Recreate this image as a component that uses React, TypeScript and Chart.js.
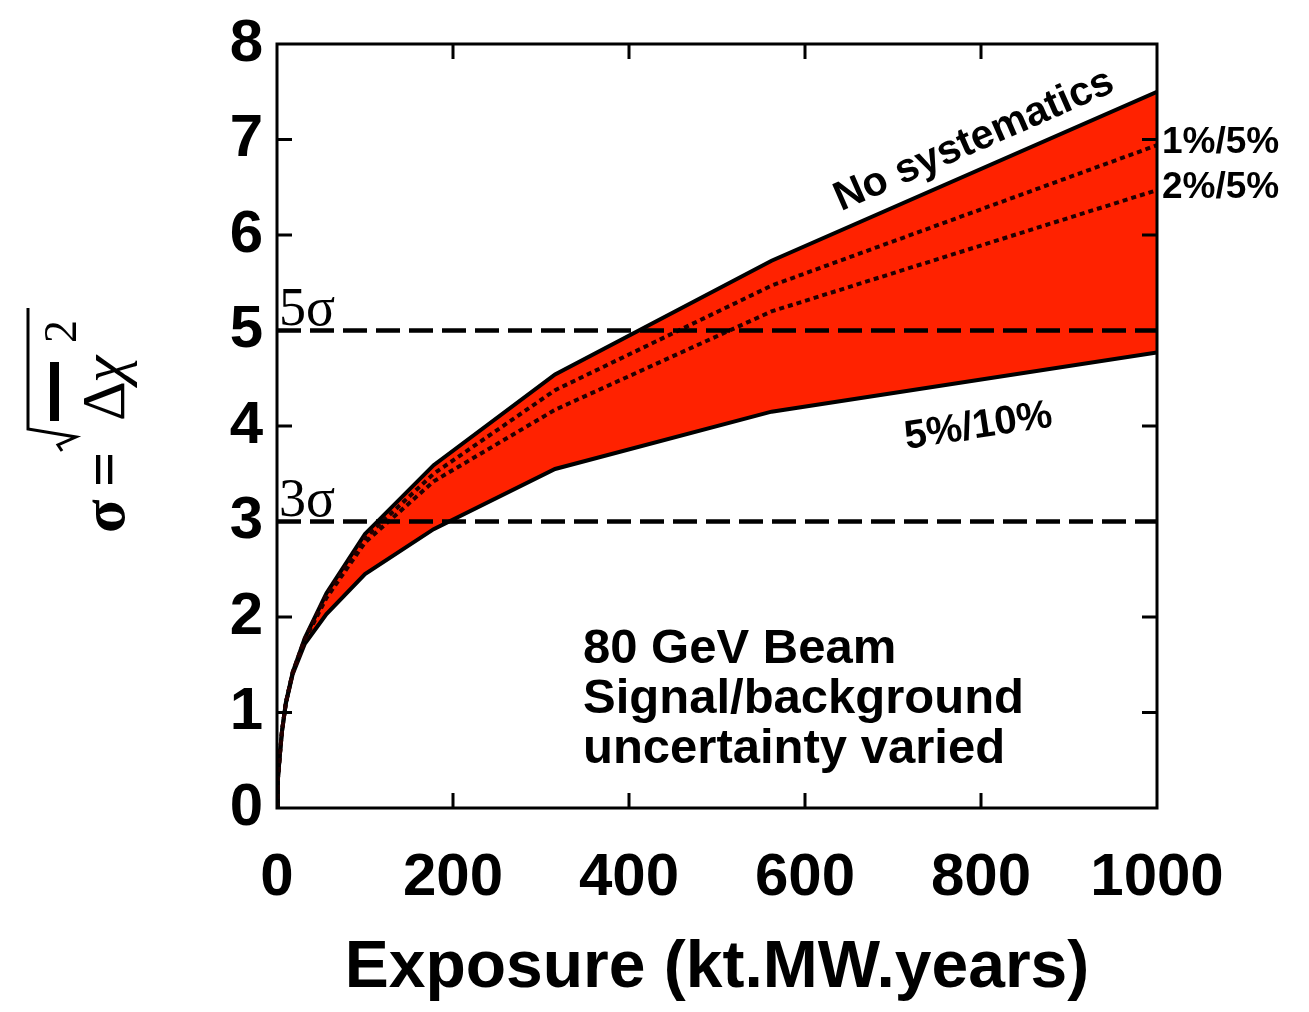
import React, { useEffect, useRef } from "react";
import { Chart, registerables } from "chart.js";

Chart.register(...registerables);

// ---- data ----
const exposure = [0, 1, 3.16, 5.62, 10, 17.8, 31.6, 56.2, 100, 178, 316, 562, 1000];
const noSystematics = [0, 0.3, 0.55, 0.8, 1.1, 1.42, 1.78, 2.25, 2.87, 3.59, 4.54, 5.73, 7.5];
const sys1pct5pct = [0, 0.3, 0.55, 0.8, 1.1, 1.42, 1.77, 2.23, 2.83, 3.5, 4.375, 5.47, 6.94];
const sys2pct5pct = [0, 0.3, 0.55, 0.8, 1.1, 1.41, 1.76, 2.2, 2.78, 3.42, 4.17, 5.2, 6.47];
const sys5pct10pct = [0, 0.3, 0.55, 0.8, 1.09, 1.4, 1.72, 2.03, 2.45, 2.92, 3.55, 4.15, 4.77];

const sigmaLevels = [5, 3];
const sigmaLabels = ["5σ", "3σ"];
const xRange = [0, 1000];
const xTickValues = [0, 200, 400, 600, 800, 1000];
const yTickValues = [0, 1, 2, 3, 4, 5, 6, 7, 8];
const xTitle = "Exposure (kt.MW.years)";
const infoLines = ["80 GeV Beam", "Signal/background", "uncertainty varied"];

const RED = "rgb(255,34,0)";
const SANS = '"Liberation Sans", Arial, sans-serif';
const SERIF = '"Liberation Serif", "Times New Roman", serif';

const toPts = (ys: number[]) => exposure.map((x, i) => ({ x, y: ys[i] }));

const decorPlugin = {
  id: "decor",
  afterDatasetsDraw(chart: any) {
    const ctx = chart.ctx;
    const { left, right, top, bottom } = chart.chartArea;
    const xs = chart.scales.x;
    const ys = chart.scales.y;
    ctx.save();
    // frame
    ctx.strokeStyle = "#000";
    ctx.lineWidth = 3;
    ctx.strokeRect(left, top, right - left, bottom - top);
    // inside ticks on all sides
    const tl = 15;
    ctx.beginPath();
    yTickValues.slice(1, -1).forEach((v) => {
      const p = ys.getPixelForValue(v);
      ctx.moveTo(left, p);
      ctx.lineTo(left + tl, p);
      ctx.moveTo(right, p);
      ctx.lineTo(right - tl, p);
    });
    xTickValues.slice(1, -1).forEach((v) => {
      const p = xs.getPixelForValue(v);
      ctx.moveTo(p, bottom);
      ctx.lineTo(p, bottom - tl);
      ctx.moveTo(p, top);
      ctx.lineTo(p, top + tl);
    });
    ctx.stroke();

    ctx.fillStyle = "#000";
    // sigma labels
    ctx.font = `54px ${SERIF}`;
    ctx.textAlign = "left";
    ctx.textBaseline = "alphabetic";
    sigmaLevels.forEach((lv, i) => {
      ctx.fillText(sigmaLabels[i], left + 2, ys.getPixelForValue(lv) - 6);
    });

    // "No systematics" along the upper curve
    const n = exposure.length;
    const ax = xs.getPixelForValue(exposure[n - 2]);
    const ay = ys.getPixelForValue(noSystematics[n - 2]);
    const bx = xs.getPixelForValue(exposure[n - 1]);
    const by = ys.getPixelForValue(noSystematics[n - 1]);
    const ang = Math.atan2(by - ay, bx - ax);
    const t0 = 0.18;
    ctx.save();
    ctx.translate(ax + (bx - ax) * t0, ay + (by - ay) * t0 - 19);
    ctx.rotate(ang);
    ctx.font = `bold 41px ${SANS}`;
    ctx.fillText("No systematics", 0, 0);
    ctx.restore();

    // "5%/10%" below the lower curve
    const cx = ax + (bx - ax) * 0.35;
    const la = ys.getPixelForValue(sys5pct10pct[n - 2]);
    const lb = ys.getPixelForValue(sys5pct10pct[n - 1]);
    const ang2 = Math.atan2(lb - la, bx - ax);
    ctx.save();
    ctx.translate(cx, la + (lb - la) * 0.35 + 58);
    ctx.rotate(ang2);
    ctx.font = `bold 40px ${SANS}`;
    ctx.fillText("5%/10%", 0, 0);
    ctx.restore();

    // right side labels
    ctx.font = `bold 37px ${SANS}`;
    ctx.textBaseline = "middle";
    ctx.fillText("1%/5%", right + 5, ys.getPixelForValue(sys1pct5pct[n - 1]) - 2);
    ctx.fillText("2%/5%", right + 5, ys.getPixelForValue(sys2pct5pct[n - 1]) - 2);

    // info box
    ctx.textBaseline = "alphabetic";
    ctx.font = `bold 49px ${SANS}`;
    infoLines.forEach((t, i) => {
      ctx.fillText(t, left + 306, bottom - 145 + i * 50);
    });

    // y-axis title: sigma = sqrt(Delta chi^2), rotated
    ctx.save();
    ctx.translate(124, 533);
    ctx.rotate(-Math.PI / 2);
    ctx.font = `bold 62px ${SERIF}`;
    ctx.fillText("σ", 0, 0);
    ctx.fillText("=", 46, 0);
    ctx.lineWidth = 3;
    ctx.beginPath();
    ctx.moveTo(82, -62);
    ctx.lineTo(88, -66);
    ctx.lineTo(96, -48);
    ctx.lineTo(104, -96);
    ctx.lineTo(225, -96);
    ctx.stroke();
    ctx.fillRect(112, -74, 59, 9);
    ctx.font = `62px ${SERIF}`;
    ctx.fillText("Δ", 112, 0);
    ctx.font = `italic 62px ${SERIF}`;
    ctx.fillText("χ", 150, 0);
    ctx.font = `46px ${SERIF}`;
    ctx.fillText("2", 190, -48);
    ctx.restore();

    ctx.restore();
  },
};

export default function App() {
  const ref = useRef<HTMLCanvasElement>(null);
  useEffect(() => {
    if (!ref.current) return;
    const sigmaDatasets = sigmaLevels.map((lv) => ({
      data: xRange.map((x) => ({ x, y: lv })),
      borderColor: "#000",
      borderWidth: 4.5,
      borderDash: [24, 9],
      pointRadius: 0,
      fill: false,
    }));
    const chart = new Chart(ref.current, {
      type: "line",
      data: {
        datasets: [
          ...sigmaDatasets,
          {
            label: "1%/5%",
            data: toPts(sys1pct5pct),
            borderColor: "#220000",
            borderWidth: 4,
            borderDash: [5, 4],
            pointRadius: 0,
            fill: false,
          },
          {
            label: "2%/5%",
            data: toPts(sys2pct5pct),
            borderColor: "#220000",
            borderWidth: 4,
            borderDash: [5, 4],
            pointRadius: 0,
            fill: false,
          },
          {
            label: "No systematics",
            data: toPts(noSystematics),
            borderColor: "#000",
            borderWidth: 4,
            pointRadius: 0,
            fill: false,
          },
          {
            label: "5%/10%",
            data: toPts(sys5pct10pct),
            borderColor: "#000",
            borderWidth: 4,
            pointRadius: 0,
            backgroundColor: RED,
            fill: "-1",
          },
        ],
      },
      options: {
        animation: false,
        responsive: false,
        devicePixelRatio: 1,
        layout: { padding: { top: 38, right: 152, left: 0, bottom: 0 } },
        elements: { line: { tension: 0 } },
        plugins: { legend: { display: false }, tooltip: { enabled: false } },
        scales: {
          x: {
            type: "linear",
            min: xRange[0],
            max: xRange[1],
            afterBuildTicks: (s: any) => {
              s.ticks = xTickValues.map((v) => ({ value: v }));
            },
            afterFit: (s: any) => {
              s.height = 204;
            },
            grid: { display: false, drawTicks: false },
            border: { display: false },
            ticks: {
              color: "#000",
              padding: 34,
              maxRotation: 0,
              callback: (v: any) => String(v),
              font: { family: SANS, weight: "bold", size: 60 },
            },
            title: {
              display: true,
              text: xTitle,
              color: "#000",
              font: { family: SANS, weight: "bold", size: 66 },
              padding: { top: 0, bottom: 4 },
            },
          },
          y: {
            type: "linear",
            min: 0,
            max: 8,
            afterBuildTicks: (s: any) => {
              s.ticks = yTickValues.map((v) => ({ value: v }));
            },
            afterFit: (s: any) => {
              s.width = 277;
            },
            grid: { display: false, drawTicks: false },
            border: { display: false },
            ticks: {
              color: "#000",
              padding: 14,
              callback: (v: any) => String(v),
              font: { family: SANS, weight: "bold", size: 60, lineHeight: 1 },
            },
          },
        },
      },
      plugins: [decorPlugin],
    });
    return () => chart.destroy();
  }, []);
  return (
    <div style={{ position: "absolute", left: 0, top: 0, width: 1309, height: 1012, background: "#fff" }}>
      <canvas ref={ref} width={1309} height={1012} style={{ display: "block" }} />
    </div>
  );
}
